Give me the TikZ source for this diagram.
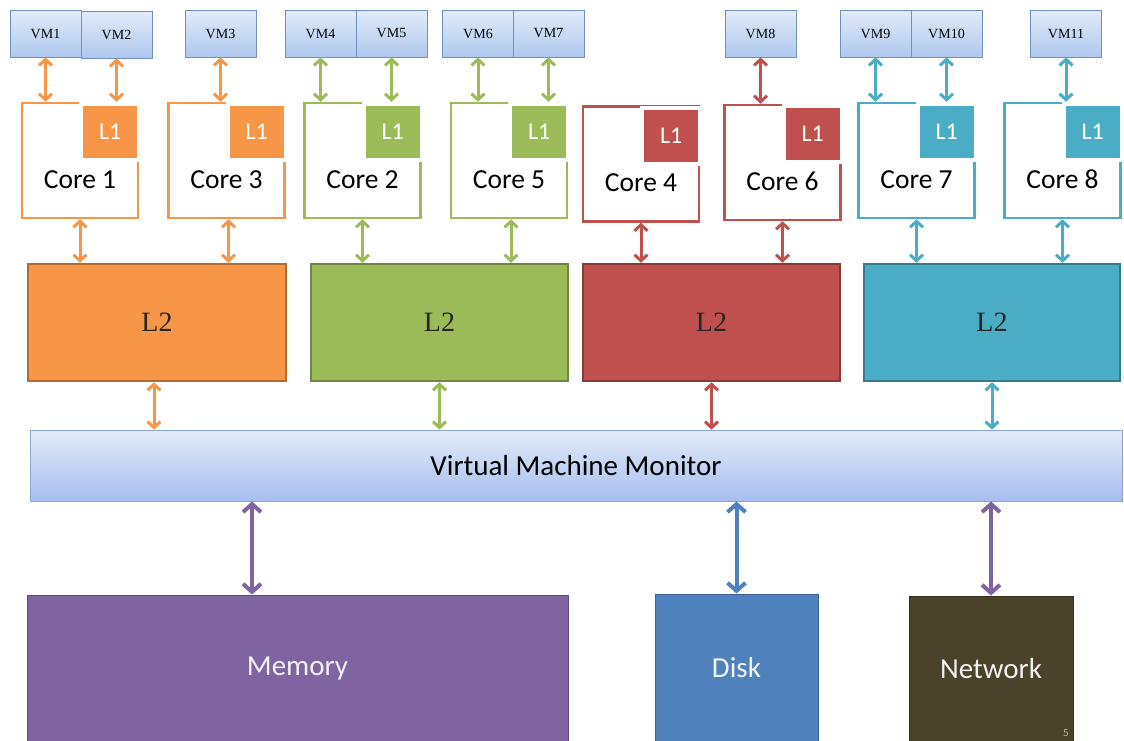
\documentclass[tikz,border=0pt]{standalone}
\usepackage{fontspec}
\setmainfont{Liberation Serif}
\newfontfamily\calib{Carlito}
\usetikzlibrary{arrows.meta,shadows}
\definecolor{corange}{HTML}{F79646}
\definecolor{cgreen}{HTML}{9BBB59}
\definecolor{cred}{HTML}{C0504D}
\definecolor{cteal}{HTML}{4BACC6}
\definecolor{cpurple}{HTML}{8064A2}
\definecolor{cblue}{HTML}{4F81BD}
\definecolor{cbrown}{HTML}{4A4229}
\definecolor{vmtop}{HTML}{E2EBF9}
\definecolor{vmbot}{HTML}{AFC8EE}
\definecolor{vmline}{HTML}{7090C0}
\tikzset{
  vm/.style={top color=vmtop, bottom color=vmbot, draw=vmline, line width=0.8pt,
    minimum width=71pt, minimum height=47pt, inner sep=0pt,
    font=\fontsize{14}{16}\selectfont},
  core/.style={draw=#1, line width=2.5pt, fill=white, inner sep=0pt,
    minimum width=116pt, minimum height=115pt,
    font=\calib\fontsize{27.5}{30}\selectfont, text height=55pt, text depth=0pt},
  lone/.style={fill=#1, draw=white, line width=4pt, minimum width=58pt, minimum height=56pt,
    inner sep=0pt, text=white, font=\calib\fontsize{24}{26}\selectfont,
    drop shadow={opacity=0.25, shadow xshift=1.5pt, shadow yshift=-1.5pt}, anchor=north east},
  ltwo/.style={fill=#1, draw=#1!72!black, line width=2.5pt, minimum height=117pt,
    inner sep=0pt, font=\fontsize{28}{30}\selectfont, text=black!85},
  dev/.style={fill=#1, draw=#1!75!black, line width=1pt, inner sep=0pt,
    text=white!95!black, font=\calib\fontsize{29}{32}\selectfont},
  arr/.style={{Straight Barb[length=6pt,width=13pt]}-{Straight Barb[length=6pt,width=13pt]}, line width=3pt, draw=#1},
  bigarr/.style={{Straight Barb[length=8pt,width=18pt]}-{Straight Barb[length=8pt,width=18pt]}, line width=4pt, draw=#1},
}
\begin{document}
\begin{tikzpicture}[x=1pt,y=-1pt]
\useasboundingbox (0,0) rectangle (1124,740);
% VMs
\node[vm] (vm1) at (45.5,33.5) {VM1};
\node[vm] (vm2) at (116.5,34.5) {VM2};
\node[vm] (vm3) at (220.5,33.5) {VM3};
\node[vm] (vm4) at (320.5,33.5) {VM4};
\node[vm] (vm5) at (391.5,33.5) {VM5};
\node[vm] (vm6) at (478,33.5) {VM6};
\node[vm] (vm7) at (548.5,33.5) {VM7};
\node[vm] (vm8) at (760.5,33.5) {VM8};
\node[vm] (vm9) at (875.5,33.5) {VM9};
\node[vm] (vm10) at (946.5,33.5) {VM10};
\node[vm] (vm11) at (1066,33.5) {VM11};
% cores
\node[core=corange] (c1) at (80,160.5) {Core 1};
\node[core=corange] (c3) at (226.5,160.5) {Core 3};
\node[core=cgreen] (c2) at (362.5,160.5) {Core 2};
\node[core=cgreen] (c5) at (509,160.5) {Core 5};
\node[core=cred] (c4) at (641,164) {Core 4};
\node[core=cred] (c6) at (782.5,162.5) {Core 6};
\node[core=cteal] (c7) at (916.5,160.5) {Core 7};
\node[core=cteal] (c8) at (1062.5,160.5) {Core 8};
% L1
\node[lone=corange] (l1a) at ([xshift=2pt]c1.north east) {L1};
\node[lone=corange] (l1b) at ([xshift=2pt]c3.north east) {L1};
\node[lone=cgreen] (l1c) at ([xshift=2pt]c2.north east) {L1};
\node[lone=cgreen] (l1d) at ([xshift=2pt]c5.north east) {L1};
\node[lone=cred] (l1e) at ([xshift=2pt,yshift=-1pt]c4.north east) {L1};
\node[lone=cred] (l1f) at ([xshift=2pt]c6.north east) {L1};
\node[lone=cteal] (l1g) at ([xshift=2pt]c7.north east) {L1};
\node[lone=cteal] (l1h) at ([xshift=2pt]c8.north east) {L1};
% L2
\node[ltwo=corange, minimum width=258pt] (o2) at (157,322.5) {L2};
\node[ltwo=cgreen, minimum width=257pt] (g2) at (439.5,322.5) {L2};
\node[ltwo=cred, minimum width=257pt] (r2) at (711.5,322.5) {L2};
\node[ltwo=cteal, minimum width=256pt] (t2) at (992,322.5) {L2};
% VMM
\node[top color=vmtop, bottom color=vmbot!95!blue, draw=vmline!80, line width=0.8pt,
  minimum width=1092pt, minimum height=71pt, inner sep=0pt,
  font=\calib\fontsize{29}{31}\selectfont] (vmm) at (576,465.5) {Virtual Machine Monitor};
% devices
\node[dev=cpurple, minimum width=541pt, minimum height=147pt] (mem) at (297.5,668.5) {Memory};
\node[dev=cblue, minimum width=163pt, minimum height=148pt] (disk) at (736.5,668) {Disk};
\node[dev=cbrown, minimum width=164pt, minimum height=146pt] (net) at (991,669) {Network};
\node[text=black!30, font=\calib\fontsize{11}{11}\selectfont, inner sep=0pt] (pg) at (1066,733) {5};
% VM arrows
\draw[arr=corange] (vm1.south) -- (vm1.south |- c1.north);
\draw[arr=corange] (vm2.south) -- (vm2.south |- l1a.north);
\draw[arr=corange] (vm3.south) -- (vm3.south |- c3.north);
\draw[arr=cgreen] (vm4.south) -- (vm4.south |- c2.north);
\draw[arr=cgreen] (vm5.south) -- (vm5.south |- l1c.north);
\draw[arr=cgreen] (vm6.south) -- (vm6.south |- c5.north);
\draw[arr=cgreen] (vm7.south) -- (vm7.south |- l1d.north);
\draw[arr=cred] (vm8.south) -- (vm8.south |- c6.north);
\draw[arr=cteal] (vm9.south) -- (vm9.south |- c7.north);
\draw[arr=cteal] (vm10.south) -- (vm10.south |- l1g.north);
\draw[arr=cteal] (vm11.south) -- (vm11.south |- c8.north);
% core to L2
\draw[arr=corange] (c1.south) -- (c1.south |- o2.north);
\draw[arr=corange] ([xshift=2pt]c3.south) -- ([xshift=2pt]c3.south |- o2.north);
\draw[arr=cgreen] (c2.south) -- (c2.south |- g2.north);
\draw[arr=cgreen] ([xshift=2pt]c5.south) -- ([xshift=2pt]c5.south |- g2.north);
\draw[arr=cred] (c4.south) -- (c4.south |- r2.north);
\draw[arr=cred] (c6.south) -- (c6.south |- r2.north);
\draw[arr=cteal] (c7.south) -- (c7.south |- t2.north);
\draw[arr=cteal] (c8.south) -- (c8.south |- t2.north);
% L2 to VMM
\draw[arr=corange] ([xshift=-3pt]o2.south) -- ([xshift=-3pt]o2.south |- vmm.north);
\draw[arr=cgreen] (g2.south) -- (g2.south |- vmm.north);
\draw[arr=cred] (r2.south) -- (r2.south |- vmm.north);
\draw[arr=cteal] (t2.south) -- (t2.south |- vmm.north);
% VMM to devices
\draw[bigarr=cpurple] ([xshift=-45.5pt]mem.north) -- ([xshift=-45.5pt]mem.north |- vmm.south);
\draw[bigarr=cblue] (disk.north) -- (disk.north |- vmm.south);
\draw[bigarr=cpurple] (net.north) -- (net.north |- vmm.south);
\end{tikzpicture}
\end{document}
